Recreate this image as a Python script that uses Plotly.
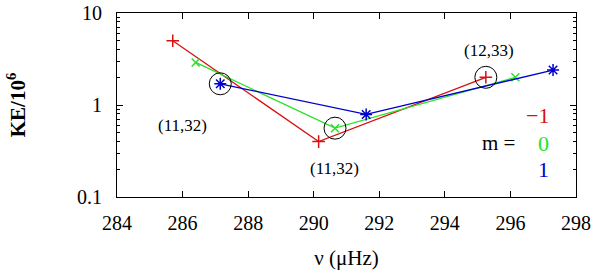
import math
import plotly.graph_objects as go

# Data
freq_m_minus1 = [285.7, 290.15, 295.25]
ke_m_minus1 = [5.0, 0.40, 2.0]
freq_m0 = [286.4, 290.65, 296.15]
ke_m0 = [2.9, 0.56, 2.0]
freq_m1 = [287.15, 291.6, 297.3]
ke_m1 = [1.7, 0.79, 2.4]

circled_freq = [287.15, 290.65, 295.25]
circled_ke = [1.7, 0.56, 2.0]
circle_labels = ["(11,32)", "(11,32)", "(12,33)"]
label_freq = [286.0, 290.63, 295.34]
label_ke = [0.60, 0.205, 3.95]

x_ticks = [284, 286, 288, 290, 292, 294, 296, 298]
y_ticks = [0.1, 1, 10]
y_tick_text = ["0.1", "1", "10"]
y_minor = [0.2, 0.3, 0.4, 0.5, 0.6, 0.7, 0.8, 0.9, 2, 3, 4, 5, 6, 7, 8, 9]

RED = "#d81010"
GREEN = "#28e028"
BLUE = "#0000cc"
FONT = "Liberation Serif"

fig = go.Figure()
fig.add_trace(go.Scatter(x=freq_m_minus1, y=ke_m_minus1, mode="lines+markers",
                         line=dict(color=RED, width=1.3),
                         marker=dict(symbol="cross-thin-open", size=9,
                                     line=dict(color=RED, width=1.5), color=RED)))
fig.add_trace(go.Scatter(x=freq_m0, y=ke_m0, mode="lines+markers",
                         line=dict(color=GREEN, width=1.3),
                         marker=dict(symbol="x-thin-open", size=8,
                                     line=dict(color=GREEN, width=1.5), color=GREEN)))
fig.add_trace(go.Scatter(x=freq_m1, y=ke_m1, mode="lines+markers",
                         line=dict(color=BLUE, width=1.3),
                         marker=dict(symbol="asterisk-open", size=10,
                                     line=dict(color=BLUE, width=1.5), color=BLUE)))
fig.add_trace(go.Scatter(x=circled_freq, y=circled_ke, mode="markers",
                         marker=dict(symbol="circle-open", size=22,
                                     line=dict(color="black", width=1), color="black")))

for fx, ky, t in zip(label_freq, label_ke, circle_labels):
    fig.add_annotation(x=fx, y=math.log10(ky), yref="y", xref="x", text=t, showarrow=False,
                       font=dict(family=FONT, size=17, color="black"))

legend_items = [("−1", RED, 0.76), ("0", GREEN, 0.386), ("1", BLUE, 0.201)]
for t, c, yy in legend_items:
    fig.add_annotation(x=297.25, y=math.log10(yy), text=t, showarrow=False, xanchor="right",
                       font=dict(family=FONT, size=22, color=c))
fig.add_annotation(x=296.2, y=math.log10(0.386), text="m =", showarrow=False, xanchor="right",
                   font=dict(family=FONT, size=21, color="black"))

axis_common = dict(showline=True, linecolor="black", linewidth=1.2, mirror="allticks",
                   ticks="inside", tickcolor="black", ticklen=6, tickwidth=1,
                   showgrid=False, zeroline=False, automargin=False,
                   ticklabeloverflow="allow",
                   tickfont=dict(family=FONT, size=20, color="black"))

fig.update_xaxes(range=[284, 298], tickvals=x_ticks, ticktext=[str(v) for v in x_ticks],
                 ticklabelstandoff=8,
                 title=dict(text="ν (μHz)", font=dict(family=FONT, size=21, color="black"),
                            standoff=17),
                 **axis_common)
fig.update_yaxes(type="log", range=[-1, 1], tickvals=y_ticks, ticktext=y_tick_text,
                 ticklabelstandoff=10,
                 minor=dict(tickvals=y_minor, ticks="inside", ticklen=3, tickcolor="black"),
                 title=dict(text="<b>KE/10<sup>6</sup></b>",
                            font=dict(family=FONT, size=21, color="black"), standoff=45),
                 **axis_common)

fig.update_layout(width=600, height=272, showlegend=False,
                  margin=dict(l=117, r=24, t=13, b=75),
                  plot_bgcolor="white", paper_bgcolor="white")

fig.write_html("out.html", config={"displayModeBar": False},
               post_script="document.body.style.margin='0';document.body.style.overflow='hidden';")
